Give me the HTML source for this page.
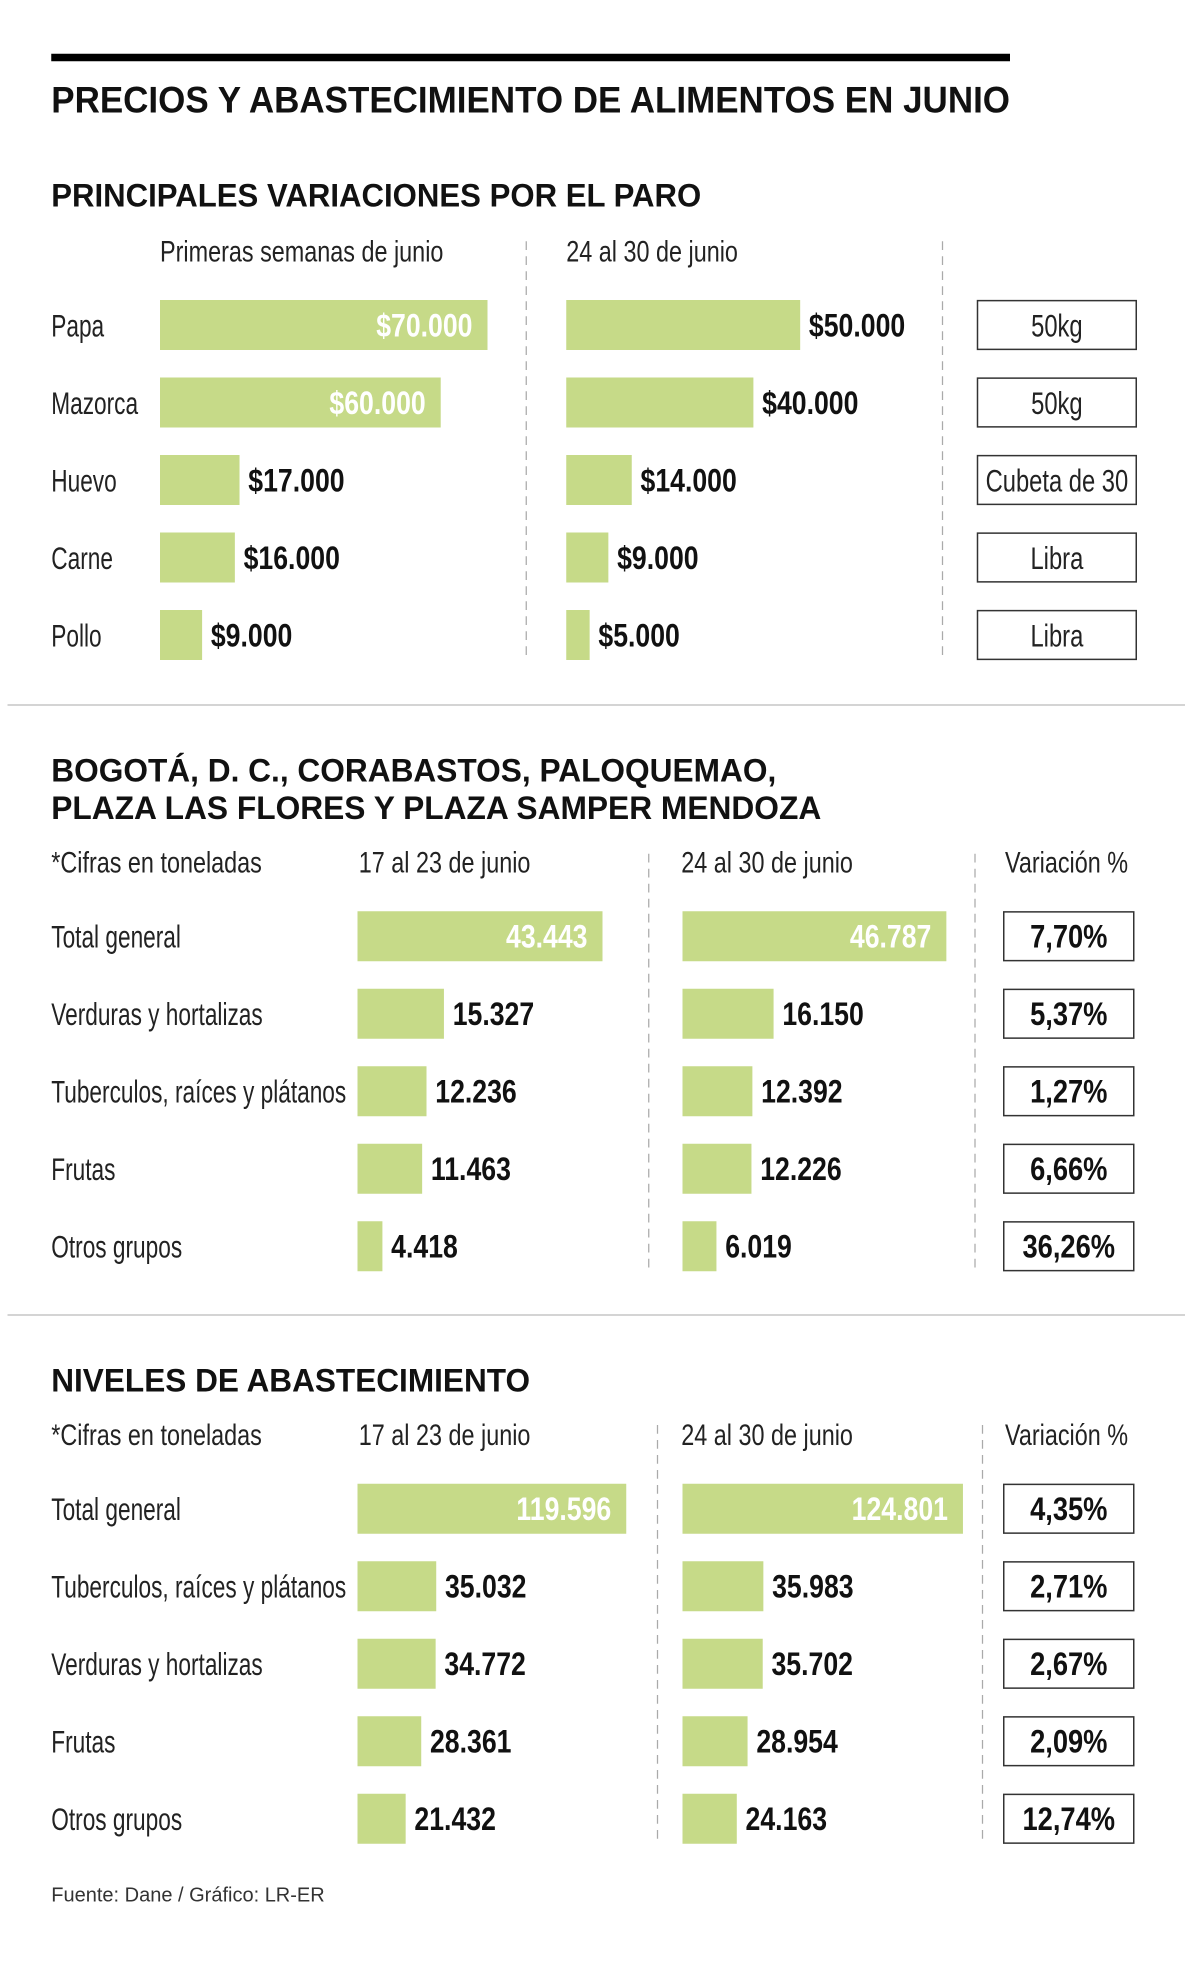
<!DOCTYPE html>
<html><head><meta charset="utf-8">
<style>
html,body{margin:0;padding:0;background:#fff;}
svg{display:block;}
text{font-family:"Liberation Sans Narrow","Liberation Sans",sans-serif;}
.ttl{font-weight:bold;font-size:30px;fill:#111;}
.sub{font-weight:bold;font-size:26px;fill:#111;}
.hdr{font-size:24px;fill:#222;}
.lbl{font-size:25px;fill:#222;}
.val{font-weight:bold;font-size:26px;fill:#111;}
.vin{font-weight:bold;font-size:26px;fill:#fff;}
.box{font-size:25px;fill:#222;}
.boxb{font-weight:bold;font-size:26px;fill:#111;}
</style></head>
<body>
<svg id="chart" width="1200" height="1963" viewBox="0 0 960 1570.4" xmlns="http://www.w3.org/2000/svg">
<rect x="41" y="43" width="767" height="6" fill="#000"/>
<text class="ttl" x="41" y="90" textLength="767" lengthAdjust="spacingAndGlyphs">PRECIOS Y ABASTECIMIENTO DE ALIMENTOS EN JUNIO</text>
<text class="sub" x="41" y="165" textLength="520" lengthAdjust="spacingAndGlyphs">PRINCIPALES VARIACIONES POR EL PARO</text>
<line x1="6" x2="948" y1="564" y2="564" stroke="#bbb" stroke-width="1"/>
<text class="sub" x="41" y="625" textLength="580" lengthAdjust="spacingAndGlyphs">BOGOTÁ, D. C., CORABASTOS, PALOQUEMAO,</text>
<text class="sub" x="41" y="655" textLength="616" lengthAdjust="spacingAndGlyphs">PLAZA LAS FLORES Y PLAZA SAMPER MENDOZA</text>
<line x1="6" x2="948" y1="1052" y2="1052" stroke="#bbb" stroke-width="1"/>
<text class="sub" x="41" y="1113" textLength="383" lengthAdjust="spacingAndGlyphs">NIVELES DE ABASTECIMIENTO</text>
<text x="41" y="1521" style="font-family:'Liberation Sans',sans-serif;font-size:16px;fill:#333">Fuente: Dane / Gráfico: LR-ER</text>
<g id="g"></g>
</svg>
<script>
// Section 1 data
const s1Cats = ["Papa","Mazorca","Huevo","Carne","Pollo"];
const s1A = [70000,60000,17000,16000,9000];
const s1B = [50000,40000,14000,9000,5000];
const s1Units = ["50kg","50kg","Cubeta de 30","Libra","Libra"];
// Section 2 data
const s2Cats = ["Total general","Verduras y hortalizas","Tuberculos, raíces y plátanos","Frutas","Otros grupos"];
const s2A = [43443,15327,12236,11463,4418];
const s2B = [46787,16150,12392,12226,6019];
const s2Var = ["7,70%","5,37%","1,27%","6,66%","36,26%"];
// Section 3 data
const s3Cats = ["Total general","Tuberculos, raíces y plátanos","Verduras y hortalizas","Frutas","Otros grupos"];
const s3A = [119596,35032,34772,28361,21432];
const s3B = [124801,35983,35702,28954,24163];
const s3Var = ["4,35%","2,71%","2,67%","2,09%","12,74%"];

const NS="http://www.w3.org/2000/svg";
const G=document.getElementById('g');
function mk(tag,attrs,txt){const e=document.createElementNS(NS,tag);for(const k in attrs)e.setAttribute(k,attrs[k]);if(txt!==undefined)e.textContent=txt;G.appendChild(e);return e;}
function tx(x,y,sx,cls,anchor,s){return mk('text',{x:0,y:0,transform:'translate('+x+','+y+') scale('+sx+',1)',class:cls,'text-anchor':anchor||'start'},s);}
function fmt(v,pre){return pre+String(v).replace(/\B(?=(\d{3})+(?!\d))/g,'.');}

function section(o){
  const xs=v=>v*o.k;
  o.heads.forEach(h=>{const t=tx(h[0],o.hy,0.78,'hdr','start',h[1]);
    
    });
  o.dash.forEach(x=>{const l=mk('line',{x1:x,x2:x,y1:o.dy0,y2:o.dy1,stroke:'#aaa','stroke-width':1,'stroke-dasharray':'7,5'});
    
    });
  o.cats.forEach((c,i)=>{
    const cy=o.y0+i*62;
    const t=tx(41,cy+9,0.725,'lbl','start',c);
    
    
    [[o.a,o.xa],[o.b,o.xb]].forEach(([arr,x0],j)=>{
      const w=xs(arr[i]);
      const r=mk('rect',{x:x0,y:cy-20,width:w,height:40,fill:'#c6da88'});
      
      
      const inside=w>o.inMin;
      const lt=tx(inside?x0+w-12:x0+w+7,cy+9,0.82,inside?'vin':'val',inside?'end':'start',fmt(arr[i],o.pre));
      
      
    });
    const b=mk('rect',{x:o.bx,y:cy-19.5,width:o.bw,height:39,fill:'#fff',stroke:'#333','stroke-width':1.2});
    
    
    const bt=tx(o.bx+o.bw/2,cy+9,o.boxCls==='box'?0.76:0.84,o.boxCls,'middle',o.box[i]);
    
    
  });
}
section({cats:s1Cats,a:s1A,b:s1B,box:s1Units,k:262/70000,xa:128,xb:453,pre:'$',inMin:200,
  y0:260,hy:209,heads:[[128,'Primeras semanas de junio'],[453,'24 al 30 de junio']],dash:[421,754],dy0:193,dy1:527,
  bx:782,bw:127,boxCls:'box'});
section({cats:s2Cats,a:s2A,b:s2B,box:s2Var,k:196/43443,xa:286,xb:546,pre:'',inMin:150,
  y0:749,hy:698,heads:[[41,'*Cifras en toneladas'],[287,'17 al 23 de junio'],[545,'24 al 30 de junio'],[804,'Variación %']],dash:[519,780],dy0:683,dy1:1017,
  bx:803,bw:104,boxCls:'boxb'});
section({cats:s3Cats,a:s3A,b:s3B,box:s3Var,k:215/119596,xa:286,xb:546,pre:'',inMin:150,
  y0:1207,hy:1156,heads:[[41,'*Cifras en toneladas'],[287,'17 al 23 de junio'],[545,'24 al 30 de junio'],[804,'Variación %']],dash:[526,786],dy0:1140,dy1:1475,
  bx:803,bw:104,boxCls:'boxb'});
</script>
</body></html>
